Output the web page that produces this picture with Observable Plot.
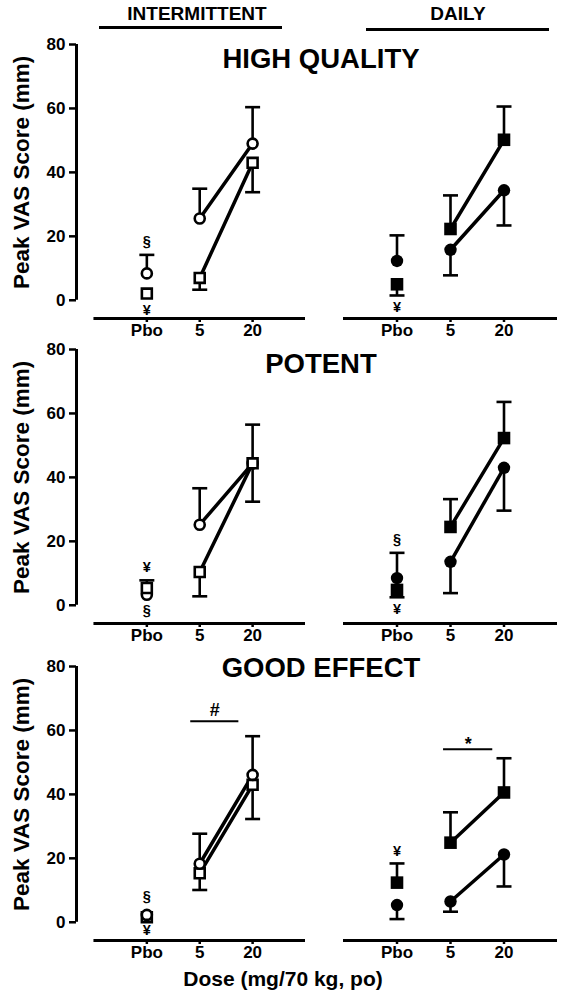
<!DOCTYPE html>
<html><head><meta charset="utf-8">
<script src="https://cdn.jsdelivr.net/npm/d3@7"></script>
<script src="https://cdn.jsdelivr.net/npm/@observablehq/plot@0.6"></script>
<style>
body{margin:0;background:#fff;}
#fig{position:relative;width:564px;height:1002px;overflow:hidden;background:#fff;font-family:"Liberation Sans",Arial,sans-serif;}
#fig svg{position:absolute;}
</style></head><body><div id="fig"></div>
<script>
// ---- categories / labels ----
const doses = ["Pbo", "5", "20"];
const measures = ["HIGH QUALITY", "POTENT", "GOOD EFFECT"];
const schedules = ["INTERMITTENT", "DAILY"];
const yTicks = [0, 20, 40, 60, 80];
const yLabel = "Peak VAS Score (mm)";
const xLabel = "Dose (mg/70 kg, po)";

// ---- values (mean and end of the drawn error bar) ----
const hqIntCircle = [8.4, 25.6, 49.0];
const hqIntCircleErr = [14.2, 34.9, 60.4];
const hqIntSquare = [2.1, 7.0, 43.0];
const hqIntSquareErr = [null, 3.3, 33.8];
const hqDayCircle = [12.3, 15.8, 34.4];
const hqDayCircleErr = [20.3, 7.8, 23.4];
const hqDaySquare = [5.0, 22.3, 50.2];
const hqDaySquareErr = [1.5, 32.8, 60.6];

const potIntCircle = [3.3, 25.2, 44.4];
const potIntCircleErr = [7.8, 36.6, 56.5];
const potIntSquare = [5.4, 10.4, 44.4];
const potIntSquareErr = [null, 2.8, 32.4];
const potDayCircle = [8.5, 13.6, 43.0];
const potDayCircleErr = [16.4, 3.8, 29.6];
const potDaySquare = [4.8, 24.5, 52.3];
const potDaySquareErr = [2.5, 33.2, 63.6];

const geIntCircle = [2.3, 18.3, 46.1];
const geIntCircleErr = [null, 27.7, 58.2];
const geIntSquare = [1.6, 15.3, 43.0];
const geIntSquareErr = [null, 10.1, 32.3];
const geDayCircle = [5.4, 6.5, 21.2];
const geDayCircleErr = [1.0, 3.3, 11.2];
const geDaySquare = [12.4, 24.9, 40.6];
const geDaySquareErr = [18.4, 34.4, 51.3];

// ---- significance marks (symbol, dose index, value) ----
const hqIntNotes = [{t: "§", x: 1, y: 18.5}, {t: "¥", x: 1, y: -3.1}];
const hqDayNotes = [{t: "¥", x: 1, y: -2.1}];
const potIntNotes = [{t: "¥", x: 1, y: 11.8}, {t: "§", x: 1, y: -1.7}];
const potDayNotes = [{t: "§", x: 1, y: 20.6}, {t: "¥", x: 1, y: -1.4}];
const geIntNotes = [{t: "§", x: 1, y: 8.1}, {t: "¥", x: 1, y: -2.6}];
const geDayNotes = [{t: "¥", x: 1, y: 22.3}];
const geIntBars = [{t: "#", x1: 1.83, x2: 2.74, y: 62.9, ty: 66.3}];
const geDayBars = [{t: "*", x1: 1.87, x2: 2.79, y: 54.1, ty: 55.8}];

// ---- build tables ----
const panels = [
  [{c: hqIntCircle, ce: hqIntCircleErr, s: hqIntSquare, se: hqIntSquareErr, notes: hqIntNotes, bars: []},
   {c: hqDayCircle, ce: hqDayCircleErr, s: hqDaySquare, se: hqDaySquareErr, notes: hqDayNotes, bars: []}],
  [{c: potIntCircle, ce: potIntCircleErr, s: potIntSquare, se: potIntSquareErr, notes: potIntNotes, bars: []},
   {c: potDayCircle, ce: potDayCircleErr, s: potDaySquare, se: potDaySquareErr, notes: potDayNotes, bars: []}],
  [{c: geIntCircle, ce: geIntCircleErr, s: geIntSquare, se: geIntSquareErr, notes: geIntNotes, bars: geIntBars},
   {c: geDayCircle, ce: geDayCircleErr, s: geDaySquare, se: geDaySquareErr, notes: geDayNotes, bars: geDayBars}]
];

const FONT = '"Liberation Sans", Arial, sans-serif';
const fig = document.getElementById("fig");
const rowTop = [44, 349, 666];   // pixel of y=80 in each row
const MT = 10, MB = 34, PH = 274;
const yDom = [-5.7, 80];
const capSym = {draw(ctx) { ctx.moveTo(-7.5, 0); ctx.lineTo(7.5, 0); }};

function panel(row, col) {
  const P = panels[row][col];
  const left = col === 0;
  const rows = [];
  doses.forEach((d, i) => {
    rows.push({shape: "circle", x: i + 1, y: P.c[i], e: P.ce[i]});
    rows.push({shape: "square", x: i + 1, y: P.s[i], e: P.se[i]});
  });
  const circles = rows.filter(r => r.shape === "circle");
  const squares = rows.filter(r => r.shape === "square");
  const lineRows = rows.filter(r => r.x > 1);
  const errRows = rows.filter(r => r.e != null);
  const fill = left ? "white" : "black";
  const xDom = left ? [-0.33, 4] : [0, 4];
  const dotC = Plot.dot(circles, {x: "x", y: "y", symbol: "circle", r: left ? 5 : 6.2, fill, stroke: "black", strokeWidth: left ? 2.6 : 0});
  const dotS = Plot.dot(squares, {x: "x", y: "y", symbol: "square", r: left ? 5.6 : 7.1, fill, stroke: "black", strokeWidth: left ? 2.6 : 0});
  const marks = [
    Plot.ruleY([yDom[0]], {x1: 0, x2: 4, stroke: "black", strokeWidth: 3}),
    Plot.axisX({ticks: [1, 2, 3], tickFormat: v => doses[v - 1], tickSize: 4, tickPadding: 1, strokeWidth: 2.5, fontSize: 17, fontWeight: "bold", label: null}),
    Plot.line(lineRows, {x: "x", y: "y", z: "shape", stroke: "black", strokeWidth: 3.5}),
    Plot.ruleX(errRows, {x: "x", y1: "y", y2: "e", stroke: "black", strokeWidth: 2.6}),
    Plot.dot(errRows, {x: "x", y: "e", symbol: capSym, stroke: "black", strokeWidth: 2.6}),
    ...(row === 2 ? [dotS, dotC] : [dotC, dotS]),
    Plot.text(P.notes, {x: "x", y: "y", text: "t", fontSize: 14.5, fontWeight: "bold"}),
    Plot.ruleY(P.bars, {x1: "x1", x2: "x2", y: "y", stroke: "black", strokeWidth: 2}),
    Plot.text(P.bars, {x: d => (d.x1 + d.x2) / 2, y: "ty", text: "t", fontSize: 18, fontWeight: "bold"})
  ];
  if (left) {
    marks.unshift(
      Plot.ruleX([xDom[0]], {y1: yTicks[0], y2: yTicks[yTicks.length - 1], stroke: "black", strokeWidth: 3}),
      Plot.axisY({ticks: yTicks, tickSize: 7, tickPadding: 4, strokeWidth: 2.5, fontSize: 17, fontWeight: "bold", label: null}),
      Plot.text([yLabel], {x: xDom[0], y: (yTicks[0] + yTicks[yTicks.length - 1]) / 2, rotate: -90, dx: -55, fontSize: 22.5, fontWeight: "bold"})
    );
  }
  const svg = Plot.plot({
    width: left ? 310 : 262,
    height: MT + PH + MB,
    marginTop: MT, marginBottom: MB,
    marginLeft: left ? 76 : 43, marginRight: 5,
    x: {domain: xDom},
    y: {domain: yDom, axis: left ? undefined : null},
    style: {background: "transparent", overflow: "visible", fontFamily: FONT, color: "black", maxWidth: "none"},
    marks
  });
  svg.style.left = (left ? 0 : 300) + "px";
  svg.style.top = (rowTop[row] - MT) + "px";
  fig.appendChild(svg);
}

for (let r = 0; r < 3; r++) for (let c = 0; c < 2; c++) panel(r, c);

// ---- headings and shared labels ----
const ov = d3.create("svg").attr("width", 564).attr("height", 1002)
  .style("left", "0px").style("top", "0px").style("font-family", FONT).style("pointer-events", "none");
const headX = [197, 458], headLine = [[99, 282, 27.5], [366, 549, 29.5]];
schedules.forEach((s, i) => {
  ov.append("text").attr("x", headX[i]).attr("y", 20).attr("text-anchor", "middle")
    .attr("font-size", 19).attr("font-weight", "bold").text(s);
  ov.append("line").attr("x1", headLine[i][0]).attr("x2", headLine[i][1])
    .attr("y1", headLine[i][2]).attr("y2", headLine[i][2]).attr("stroke", "black").attr("stroke-width", 3);
});
const titleY = [68, 373, 677];
measures.forEach((m, i) => {
  ov.append("text").attr("x", 321).attr("y", titleY[i]).attr("text-anchor", "middle")
    .attr("font-size", 27.5).attr("font-weight", "bold").text(m);
});
ov.append("text").attr("x", 283).attr("y", 986).attr("text-anchor", "middle")
  .attr("font-size", 21).attr("font-weight", "bold").text(xLabel);
fig.appendChild(ov.node());
</script></body></html>
